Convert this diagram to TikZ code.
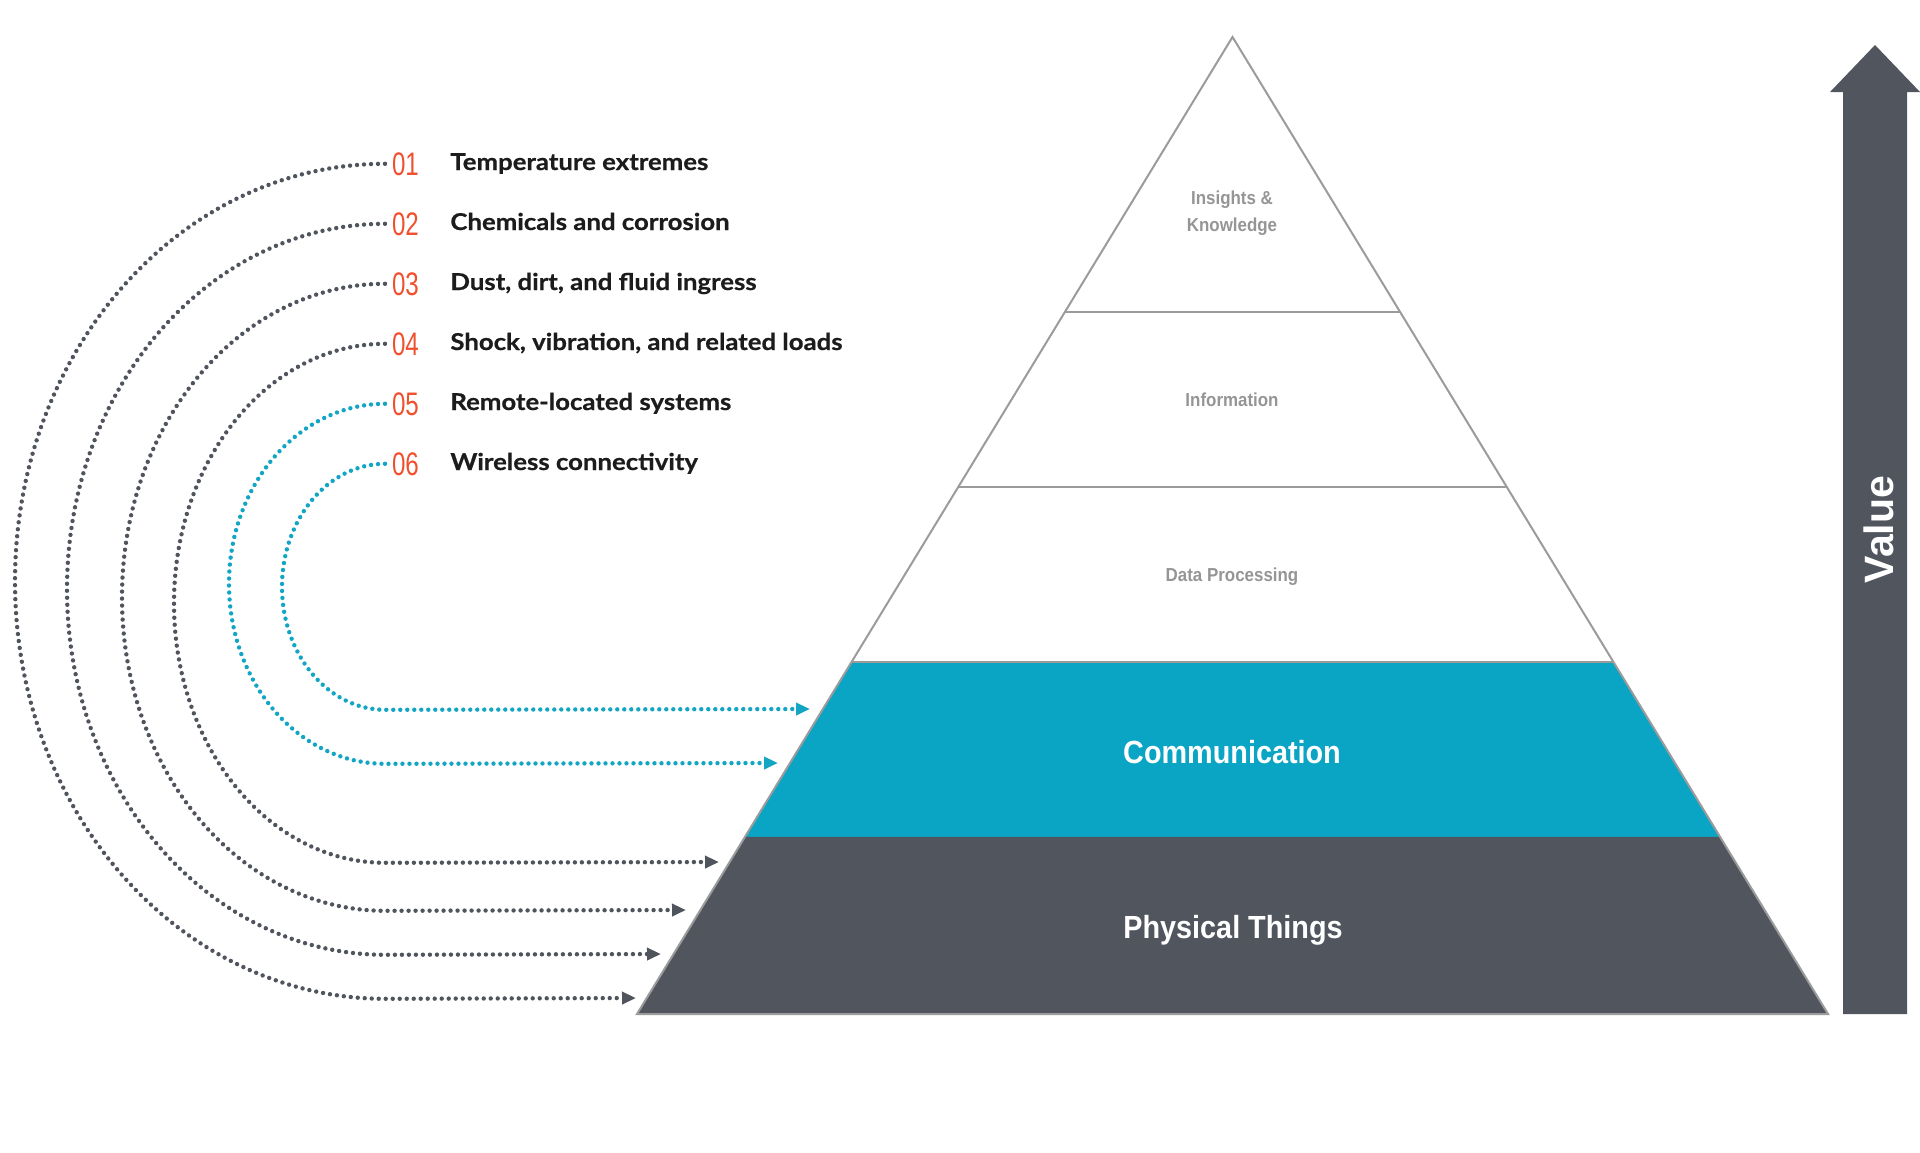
\documentclass[tikz,border=0pt]{standalone}
\usepackage{fontspec}
\setmainfont{Liberation Sans}
\newfontfamily\listfont{Lato}[FakeStretch=1.11, BoldFeatures={FakeBold=0.6}]
\newfontfamily\numfont{Liberation Sans}[FakeStretch=0.74]
\newfontfamily\robfont{Liberation Sans}[FakeStretch=0.9]
\usetikzlibrary{arrows.meta,calc}
\definecolor{cteal}{HTML}{0AA5C5}
\definecolor{cdark}{HTML}{51555E}
\definecolor{cline}{HTML}{9B9B9B}
\definecolor{clabel}{HTML}{959595}
\definecolor{cnum}{HTML}{F0502D}
\definecolor{ctext}{HTML}{1C1C1C}
\definecolor{cgdot}{HTML}{50545C}
\definecolor{ctdot}{HTML}{12A5C4}
\begin{document}
\begin{tikzpicture}[x=0.5pt,y=-0.5pt,
  dotbase/.style={line width=2.2pt, line cap=round, dash pattern=on 0pt off 3.5pt,
    -{Triangle[length=7pt,width=6pt]}},
  graydot/.style={dotbase, draw=cgdot},
  tealdot/.style={dotbase, draw=ctdot},
  numlabel/.style={anchor=base west, inner sep=0pt, outer sep=0pt, text=cnum,
    font=\numfont\fontsize{16.3}{18}\selectfont},
  itemlabel/.style={anchor=base west, inner sep=0pt, text=ctext,
    font=\listfont\bfseries\fontsize{11.6}{13}\selectfont},
  layerlabel/.style={anchor=base, inner sep=0pt, text=clabel, align=center,
    font=\robfont\bfseries\fontsize{9.4}{13.5}\selectfont},
  biglabel/.style={anchor=base, inner sep=0pt, text=white,
    font=\robfont\bfseries\fontsize{16}{19}\selectfont},
  outline/.style={draw=cline, line width=1pt, line join=miter}
]
\useasboundingbox (0,0) rectangle (1920,1152);

% pyramid geometry
\coordinate (apex) at (1232.5,37);
\coordinate (bl) at (637,1014);
\coordinate (br) at (1828,1014);
\coordinate (l1) at ($(apex)!0.2815!(bl)$);
\coordinate (r1) at ($(apex)!0.2815!(br)$);
\coordinate (l2) at ($(apex)!0.4606!(bl)$);
\coordinate (r2) at ($(apex)!0.4606!(br)$);
\coordinate (l3) at ($(apex)!0.6397!(bl)$);
\coordinate (r3) at ($(apex)!0.6397!(br)$);
\coordinate (l4) at ($(apex)!0.8188!(bl)$);
\coordinate (r4) at ($(apex)!0.8188!(br)$);

\fill[cteal] (l3) -- (r3) -- (r4) -- (l4) -- cycle;
\fill[cdark] (l4) -- (r4) -- (br) -- (bl) -- cycle;
\draw[outline] (apex) -- (br) -- (bl) -- cycle;
\draw[outline] (l1) -- (r1);
\draw[outline] (l2) -- (r2);
\draw[outline] (l3) -- (r3);

% layer labels
\node[layerlabel] (ik) at (1232,231) {Insights \&\\Knowledge};
\node[layerlabel] (info) at (1232,406) {Information};
\node[layerlabel] (dp) at (1232,581) {Data Processing};
\node[biglabel] (comm) at (1232,763) {Communication};
\node[biglabel] (phys) at (1233,938) {Physical Things};

% value arrow
\fill[cdark] (1843,1014) -- (1843,92) -- (1830,92) -- (1875,45) -- (1920,92)
  -- (1907,92) -- (1907,1014) -- cycle;
\node[rotate=90, text=white, inner sep=0pt,
  font=\bfseries\fontsize{20.5}{22}\selectfont] (val) at (1879,529.5) {Value};

% list
\node[numlabel] (n1) at (392,175) {01};
\node[numlabel] (n2) at (392,235) {02};
\node[numlabel] (n3) at (392,295) {03};
\node[numlabel] (n4) at (392,355) {04};
\node[numlabel] (n5) at (392,415) {05};
\node[numlabel] (n6) at (392,475) {06};
\node[itemlabel] (t1) at (450,170) {Temperature extremes};
\node[itemlabel] (t2) at (450,230) {Chemicals and corrosion};
\node[itemlabel] (t3) at (450,290) {Dust, dirt, and fluid ingress};
\node[itemlabel] (t4) at (450,350) {Shock, vibration, and related loads};
\node[itemlabel] (t5) at (450,410) {Remote-located systems};
\node[itemlabel] (t6) at (450,470) {Wireless connectivity};

% arrow ends
\coordinate (e1) at (636,998);
\coordinate (e2) at (661,954);
\coordinate (e3) at (686,910);
\coordinate (e4) at (719,862);
\coordinate (e5) at (778,763);
\coordinate (e6) at (810,709);

\draw[graydot] ([xshift=-3.5pt]n1.west) arc[start angle=-90, end angle=-270, x radius=370, y radius=417.5] -- (e1);
\draw[graydot] ([xshift=-3.5pt]n2.west) arc[start angle=-90, end angle=-270, x radius=318, y radius=365.5] -- (e2);
\draw[graydot] ([xshift=-3.5pt]n3.west) arc[start angle=-90, end angle=-270, x radius=263, y radius=313.5] -- (e3);
\draw[graydot] ([xshift=-3.5pt]n4.west) arc[start angle=-90, end angle=-270, x radius=211, y radius=259.5] -- (e4);
\draw[tealdot] ([xshift=-3.5pt]n5.west) arc[start angle=-90, end angle=-270, x radius=156, y radius=180] -- (e5);
\draw[tealdot] ([xshift=-3.5pt]n6.west) arc[start angle=-90, end angle=-270, x radius=103, y radius=123] -- (e6);
\end{tikzpicture}
\end{document}
